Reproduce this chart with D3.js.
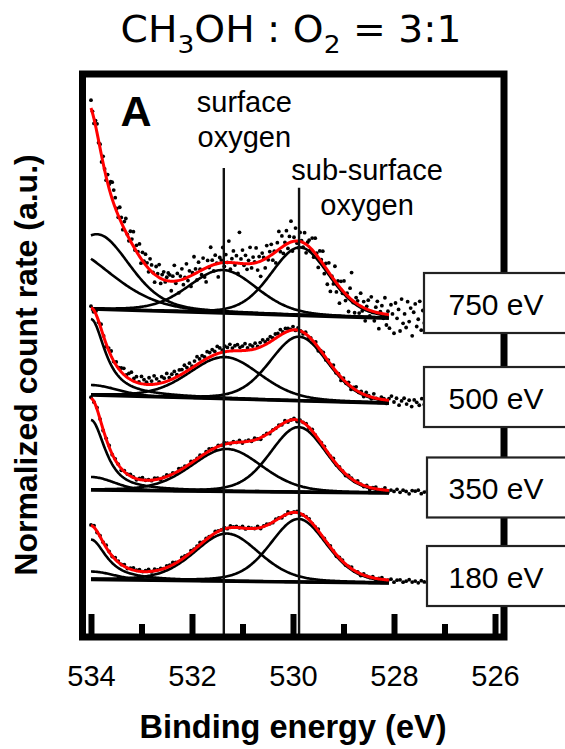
<!DOCTYPE html>
<html>
<head>
<meta charset="utf-8">
<script src="https://cdn.jsdelivr.net/npm/d3@7"></script>
<style>
  body { margin: 0; background: #fff; }
  svg text { font-family: "Liberation Sans", Arial, Helvetica, sans-serif; }
</style>
</head>
<body>
<svg id="chart"></svg>
<script>
// spectra, top to bottom (photon energy)
const photonEnergies = ["750 eV", "500 eV", "350 eV", "180 eV"];

// linear background, value at 534.0 eV and at 528.2 eV
const bgStart = [58.26, 42.98, 26.11, 10.21];
const bgEnd = [56.66, 41.56, 25.58, 9.59];

// fitted components, one row per spectrum:
// [position (eV), height, FWHM (eV), Lorentzian fraction]
const edgePeak = [          // above the window, only in the envelope
  [534.10, 14.74, 0.56, 0],
  [534.05, 0.00, 0.40, 0],
  [534.05, 1.42, 0.40, 0],
  [534.05, 0.89, 0.40, 0]
];
const highPeak = [
  [533.88, 13.32, 1.53, 0.3],
  [534.00, 13.50, 0.66, 0.9],
  [534.00, 12.43, 0.66, 0.8],
  [534.00, 7.10, 0.72, 0.9]
];
const tailPeak = [
  [534.60, 11.01, 2.24, 0.2],
  [534.00, 1.78, 1.22, 0],
  [534.00, 2.31, 1.06, 0],
  [534.00, 1.42, 1.04, 0]
];
const surfacePeak = [
  [531.39, 7.64, 1.60, 0.2],
  [531.35, 7.39, 1.66, 0.2],
  [531.31, 7.53, 1.65, 0.2],
  [531.31, 8.45, 1.52, 0.25]
];
const subsurfacePeak = [
  [529.86, 12.08, 1.36, 0.2],
  [529.88, 11.37, 1.36, 0.2],
  [529.89, 11.55, 1.32, 0.2],
  [529.89, 11.19, 1.32, 0.25]
];

// measured points: channel step (eV) from 534 eV, and deviation from the fit
const dotStep = [0.03, 0.05, 0.06, 0.06];
const resid750 = [
  1.4, 0.3, -0.8, 0.9, 1.6, -0.4, 0.7, -1.1, 1.2, 0.2, -0.6, 1.5, 0.8, 2.2, 3.0, 2.4,
  1.8, 0.6, -0.3, 2.1, 0.9, -0.7, 1.3, 2.4, 0.1, -0.5, 1.7, 0.8, 2.6, -0.2, 1.1, 0.4,
  2.2, -0.8, 1.5, 0.3, 1.9, 0.7, -0.6, 2.0, 1.2, 0.1, -1.4, 1.6, 0.5, 2.3, -0.9, 0.8,
  1.4, -0.3, 0.6, 1.4, 1.1, -1.7, 0.9, 2.8, -0.4, 1.3, -2.2, 0.7, 1.9, -1.0, 0.2, 2.5,
  -0.6, 1.0, -1.9, 0.4, 3.1, 0.8, -1.3, 1.7, 0.3, -0.8, 2.0, -1.5, -2.5, 1.2, -0.2, 3.3,
  0.9, -1.1, 1.6, 0.1, -2.4, 1.0, 0.5, 2.7, -0.7, 1.4, 0.0, 3.8, -1.2, 0.7, 2.1, -0.4,
  1.3, -1.8, 5.5, 0.8, 2.4, -0.3, 1.5, -1.0, 0.6, 2.9, -0.8, 1.1, 0.2, 2.6, -1.4, 0.9,
  -2.7, 1.3, 0.4, -1.6, 2.2, -0.5, 0.8, 1.9, -1.1, 0.3, -2.0, 1.4, 3.2, -0.6, 2.0, -1.3,
  0.5, 2.4, -0.9, 1.1, 3.7, -1.7, 0.7, 2.3, -0.4, -1.2, 1.6, 0.2, -0.8, 1.9, -1.5, 0.6,
  1.2, -0.3, 2.1, -1.0, 2.7, 0.4, -1.8, 1.5, 0.3, 2.2, -1.4, 0.8, -2.5, 1.7, -3.0, 0.1,
  -0.9, 2.6, -1.6, 0.7, -2.9, 1.3, -0.5, 2.0, -1.2, 0.4, -2.6, 1.8, 4.8, -0.3, -1.9, 1.0,
  0.6, -1.4, 2.3, -0.7, 1.1, -2.2, 0.5, 1.7, -1.0, 2.5, -0.2, -1.6, 0.9, 2.0, -2.8, 0.3,
  1.4, -0.8, 2.9, -1.9, 0.6, -2.4, 1.8, 0.2, -3.2, 2.2, -0.5, 1.1, -2.7, 3.0, -1.3, 0.4,
  -2.0, 2.6, -0.9, 1.5, -3.4, 0.8, 2.3, -1.7, -0.4, 2.8, -2.3, 1.2, -1.0, 3.3, -2.6, 0.5
];
const resid500 = [
  0.3, -0.4, 0.6, -0.2, 0.8, 0.1, -0.5, 0.4, 0.9, -0.1, 0.6, 0.2,
  0.7, 1.1, 0.3, 0.9, 1.4, 0.5, 1.0, 0.2, 1.3, 0.8, 0.4, 1.2,
  0.6, 1.5, 0.9, 0.3, 1.1, 0.7, 1.4, 0.5, 0.9, 1.2, 0.4, 1.0,
  0.8, 1.3, 0.6, 1.1, 0.3, 0.9, 1.4, 0.7, 1.0, 0.5, 1.2, 0.8,
  1.1, 0.6, 1.3, 0.9, 0.4, 1.0, 0.7, 1.2, 0.5, 0.9, 1.1, 0.6,
  0.8, 1.2, 0.4, 0.9, 0.6, 1.0, 0.3, 0.8, 1.1, 0.5, 0.7, 0.9,
  0.4, 0.8, 0.6, 1.0, 0.3, 0.7, 0.5, 0.2, 0.6, -0.1, 0.4, 0.0,
  -0.3, 0.3, -0.5, 0.1, -0.2, 0.4, -0.6, 0.0, 0.3, -0.4, 0.2, -0.1,
  0.5, -0.3, 0.1, -0.6, 0.3, -0.2, 0.4, -0.5, 0.2, 0.6, -0.1, 0.3,
  -0.4, 0.5, 0.1, -0.3, 0.7, 0.0, -0.5, 0.4, 0.2, -0.6, 0.3, 0.8,
  -0.2, 0.5, -0.7, 0.1, 0.6, -0.4, 0.3, -0.8, 0.4, 0.0, -0.5, 0.7,
  -0.3, 0.2
];
const resid350 = [
  0.2, -0.1, 0.3, 0.0, -0.2, 0.1, 0.3, -0.1, 0.2, 0.1, -0.3, 0.2,
  0.0, 0.3, 0.1, -0.2, 0.2, 0.4, 0.0, 0.1, -0.1, 0.3, 0.2, -0.2,
  0.1, 0.3, 0.0, 0.2, -0.1, 0.4, 0.1, 0.2, -0.2, 0.3, 0.0, 0.1,
  0.3, -0.1, 0.2, 0.4, 0.1, -0.2, 0.2, 0.0, 0.3, 0.1, -0.1, 0.2,
  0.0, 0.3, -0.2, 0.1, 0.2, -0.1, 0.3, 0.0, -0.3, 0.1, 0.2, -0.2,
  0.1, 0.0, 0.2, -0.1, 0.3, -0.2, 0.0, 0.2, -0.3, 0.1, 0.0, 0.2,
  -0.1, 0.3, 0.0, -0.2, 0.1, 0.2, -0.1, 0.0, 0.3, -0.2, 0.1, 0.0,
  -0.3, 0.2, 0.1, -0.1, 0.3, 0.0, -0.2, 0.2, -0.4, 0.1, 0.3, -0.2,
  0.0, 0.4, -0.3, 0.1, -0.1, 0.3, -0.2, 0.2, 0.0, -0.4, 0.2, 0.1,
  0.3, -0.3, 0.0, 0.2
];
const resid180 = [
  0.1, 0.3, -0.2, 0.2, 0.0, 0.4, 0.1, -0.1, 0.3, 0.2, 0.0, 0.3,
  -0.1, 0.2, 0.4, 0.1, 0.3, 0.0, 0.2, 0.4, -0.1, 0.3, 0.1, 0.2,
  0.0, 0.3, 0.2, 0.4, 0.1, -0.1, 0.3, 0.2, 0.0, 0.3, 0.1, 0.2,
  0.4, 0.0, 0.2, 0.1, -0.2, 0.3, 0.1, 0.0, 0.2, -0.1, 0.3, 0.1,
  0.2, 0.0, 0.3, -0.1, 0.2, 0.1, 0.0, 0.3, -0.2, 0.1, 0.2, 0.0,
  -0.1, 0.2, 0.1, -0.2, 0.0, 0.3, -0.1, 0.1, 0.2, -0.3, 0.0, 0.1,
  0.2, -0.1, 0.0, 0.3, -0.2, 0.1, -0.1, 0.2, 0.0, -0.3, 0.1, 0.2,
  -0.2, 0.0, 0.3, -0.1, 0.1, -0.3, 0.2, 0.0, -0.1, 0.2, -0.2, 0.1,
  0.3, -0.1, 0.0, 0.2, -0.3, 0.1, 0.2, -0.2, 0.0, 0.3, -0.1, 0.1,
  -0.2, 0.2, 0.0, -0.1
];
const residuals = [resid750, resid500, resid350, resid180];

// fit window ends here
const fitEnd = 528.1;

// guide lines for the two oxygen species
const markerEnergies = [531.37, 529.88];
const markerTops = [83.3, 79.8];
const markerLabels = [["surface", "oxygen"], ["sub-surface", "oxygen"]];

const xTicks = [534, 532, 530, 528, 526];
const xMinorTicks = [533, 531, 529, 527];

// ---- layout ----
const width = 565;
const height = 749;
const frame = { left: 82.5, right: 504, top: 74, bottom: 637 };
const labelLeft = [424, 424, 427, 427];
const labelLift = [15, 6, 5.5, 7];
const markerTextDx = [20.5, 68];
const markerTextDy = [[-56.3, -21], [-8, 27.7]];

const svg = d3.select("#chart")
  .attr("width", width)
  .attr("height", height);

// scales: 50.5 px per eV, 534 eV sits 8.5 px inside the frame
const x = d3.scaleLinear()
  .domain([534.168, 525.822])
  .range([frame.left, frame.right]);

const y = d3.scaleLinear()
  .domain([0, 100])
  .range([frame.bottom, frame.top]);

// pseudo-Voigt line shape
function peak(e, p) {
  const u = (e - p[0]) / p[2];
  return p[1] * ((1 - p[3]) * Math.exp(-4 * Math.LN2 * u * u) + p[3] / (1 + 4 * u * u));
}

function background(i, e) {
  return bgStart[i] + (bgEnd[i] - bgStart[i]) * (534 - e) / (534 - 528.2);
}

const drawnPeaks = [highPeak, tailPeak, surfacePeak, subsurfacePeak];
const allPeaks = [edgePeak].concat(drawnPeaks);

function envelope(i, e) {
  return background(i, e) + d3.sum(allPeaks, p => peak(e, p[i]));
}

const grid = d3.range(534, fitEnd - 1e-9, -0.02);

const line = d3.line()
  .x(d => x(d[0]))
  .y(d => y(d[1]));

const plot = svg.append("g");

photonEnergies.forEach(function(label, i) {
  const g = plot.append("g").attr("class", "spectrum");

  // components on the background
  drawnPeaks.forEach(function(p) {
    g.append("path")
      .datum(grid.map(e => [e, background(i, e) + peak(e, p[i])]))
      .attr("d", line)
      .attr("fill", "none")
      .attr("stroke", "#000")
      .attr("stroke-width", 2.6);
  });

  // background
  g.append("path")
    .datum([[534, background(i, 534)], [fitEnd, background(i, fitEnd)]])
    .attr("d", line)
    .attr("fill", "none")
    .attr("stroke", "#000")
    .attr("stroke-width", 3.6);

  // data points
  const pts = residuals[i].map(function(r, k) {
    const e = 534 - k * dotStep[i];
    return [e, envelope(i, e) + r];
  });
  g.selectAll("circle")
    .data(pts)
    .enter()
    .append("circle")
    .attr("cx", d => x(d[0]))
    .attr("cy", d => y(d[1]))
    .attr("r", 1.9)
    .attr("fill", "#000");

  // envelope of the fit
  g.append("path")
    .datum(grid.map(e => [e, envelope(i, e)]))
    .attr("d", line)
    .attr("fill", "none")
    .attr("stroke", "#ff0000")
    .attr("stroke-width", 3);
});

// guide lines
markerEnergies.forEach(function(e, m) {
  svg.append("line")
    .attr("x1", x(e)).attr("x2", x(e))
    .attr("y1", y(markerTops[m])).attr("y2", frame.bottom)
    .attr("stroke", "#111")
    .attr("stroke-width", 2.4);

  markerLabels[m].forEach(function(t, r) {
    svg.append("text")
      .attr("x", x(e) + markerTextDx[m])
      .attr("y", y(markerTops[m]) + markerTextDy[m][r])
      .attr("text-anchor", "middle")
      .attr("font-size", 29)
      .text(t);
  });
});

// panel letter
svg.append("text")
  .attr("x", 136)
  .attr("y", 126)
  .attr("text-anchor", "middle")
  .attr("font-size", 43)
  .attr("font-weight", "bold")
  .text("A");

// frame
svg.append("rect")
  .attr("x", frame.left)
  .attr("y", frame.top)
  .attr("width", frame.right - frame.left)
  .attr("height", frame.bottom - frame.top)
  .attr("fill", "none")
  .attr("stroke", "#000")
  .attr("stroke-width", 7);

// x axis, ticks point inward
const xAxis = d3.axisBottom(x)
  .tickValues(xTicks)
  .tickSizeInner(-23)
  .tickSizeOuter(0)
  .tickPadding(28.4)
  .tickFormat(d3.format("d"));

const gx = svg.append("g")
  .attr("transform", `translate(0,${frame.bottom})`)
  .call(xAxis);
gx.attr("font-size", 29).attr("font-family", "Liberation Sans, Arial, sans-serif");
gx.select(".domain").remove();
gx.selectAll(".tick line").attr("stroke-width", 6);

const gxMinor = svg.append("g")
  .attr("transform", `translate(0,${frame.bottom})`)
  .call(d3.axisBottom(x).tickValues(xMinorTicks).tickSizeInner(-13).tickSizeOuter(0).tickFormat(""));
gxMinor.select(".domain").remove();
gxMinor.selectAll(".tick line").attr("stroke-width", 6);

// photon energy labels
photonEnergies.forEach(function(label, i) {
  const cy = y(bgEnd[i]) - labelLift[i];
  svg.append("rect")
    .attr("x", labelLeft[i])
    .attr("y", cy - 30)
    .attr("width", 170)
    .attr("height", 60)
    .attr("fill", "#fff")
    .attr("stroke", "#222")
    .attr("stroke-width", 2.2);
  svg.append("text")
    .attr("x", 496)
    .attr("y", cy + 12)
    .attr("text-anchor", "middle")
    .attr("font-size", 30)
    .text(label);
});

// axis titles
svg.append("text")
  .attr("x", 293)
  .attr("y", 738)
  .attr("text-anchor", "middle")
  .attr("font-size", 32.5)
  .attr("font-weight", "bold")
  .text("Binding energy (eV)");

svg.append("text")
  .attr("transform", "translate(36.5,365) rotate(-90)")
  .attr("text-anchor", "middle")
  .attr("font-size", 32)
  .attr("font-weight", "bold")
  .text("Normalized count rate (a.u.)");

// title, stretched to the width of the original lettering
const titleG = svg.append("g");
const title = titleG.append("text")
  .attr("x", 0)
  .attr("y", 0)
  .attr("text-anchor", "middle")
  .style("font-family", "'DejaVu Sans', sans-serif")
  .style("font-size", "37px");
title.append("tspan").text("CH");
title.append("tspan").style("font-size", "25px").attr("dy", 11).text("3");
title.append("tspan").attr("dy", -11).text("OH : O");
title.append("tspan").style("font-size", "25px").attr("dy", 11).text("2");
title.append("tspan").attr("dy", -11).text(" = 3:1");

const titleBox = title.node().getBBox();
const titleScale = 341 / titleBox.width;
titleG.attr("transform", `translate(291,41.7) scale(${titleScale},1)`);
</script>
</body>
</html>
